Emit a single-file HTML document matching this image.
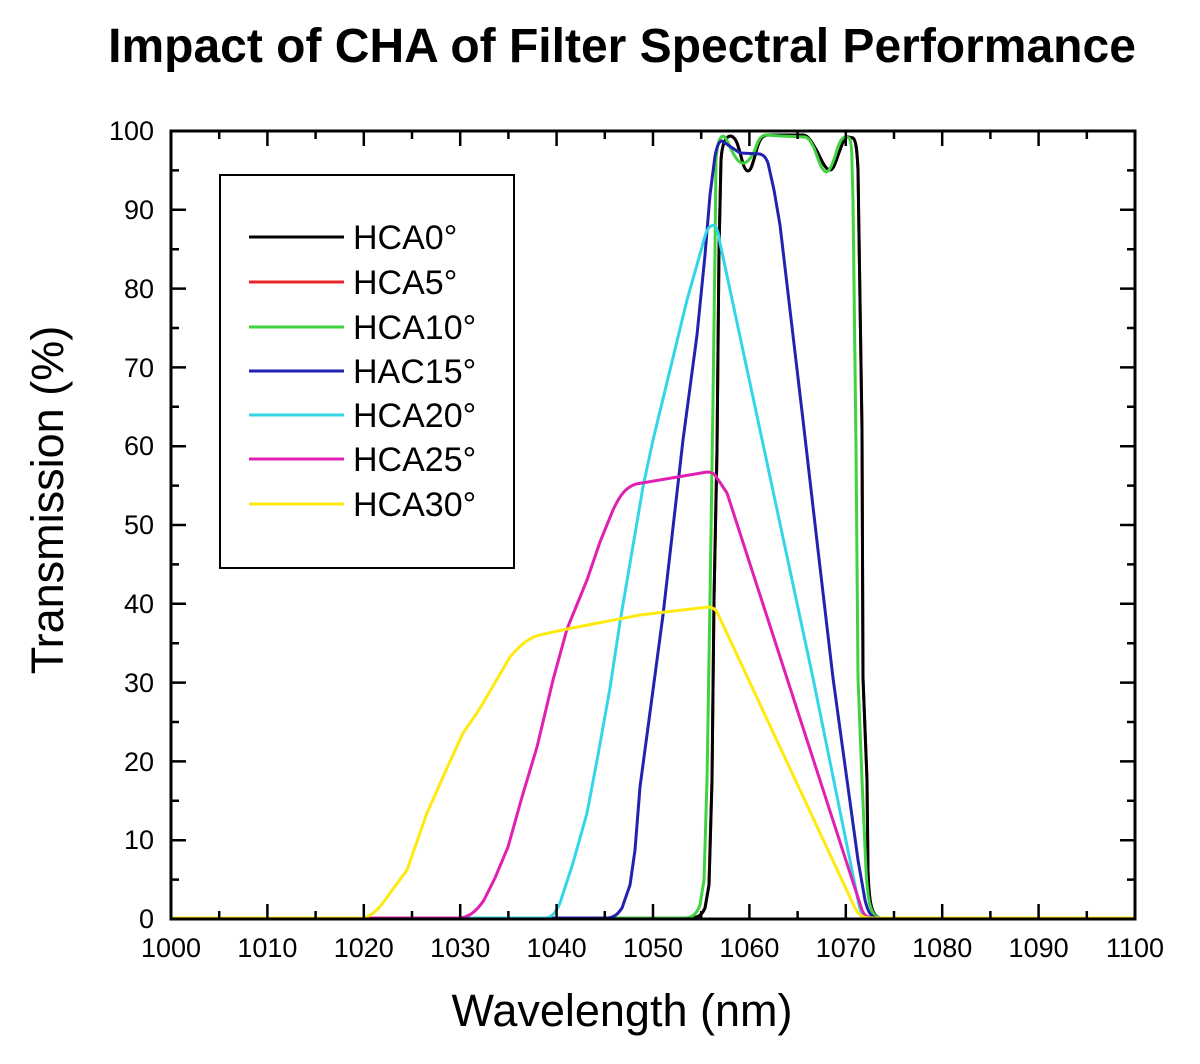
<!DOCTYPE html>
<html>
<head>
<meta charset="utf-8">
<style>
  html, body { margin:0; padding:0; background:#fff; }
  svg { display:block; }
  text { font-family: "Liberation Sans", Arial, sans-serif; fill:#000; }
</style>
</head>
<body>
<svg width="1200" height="1064" viewBox="0 0 1200 1064" xmlns="http://www.w3.org/2000/svg">
  <rect width="1200" height="1064" fill="#fff"/>

  <!-- Title -->
  <text x="622" y="62" font-size="48" font-weight="bold" text-anchor="middle">Impact of CHA of Filter Spectral Performance</text>

  <!-- Series -->
  <g fill="none" stroke-width="3" stroke-linejoin="round" stroke-linecap="round">
    <path stroke="#e8262a" d="M171,918 L690,918 C 698,918 702,915 705,908 L709,885 L712,780 L714,600 L717,450 L719,250 L721,160 C 722,145 725,137 730,136 C 736,136 738,145 742,160 C 744,168 746,171 748,171 C 751,171 753,163 756,152 C 759,140 762,135 768,135 L803,135 C 808,135 812,142 818,153 C 822,162 826,170 830,170 C 834,170 836,160 840,150 C 843,141 845,137 848,137 L853,138 C 856,140 857,150 858,170 L860,300 L862,430 L863,678 L867,780 L868,870 C 869,905 872,916 880,918 L1135,918"/>
    <path stroke="#000" d="M171,918 L690,918 C 698,918 702,915 705,908 L709,885 L712,780 L714,600 L717,450 L719,250 L721,160 C 722,145 725,137 730,136 C 736,136 738,145 742,160 C 744,168 746,171 748,171 C 751,171 753,163 756,152 C 759,140 762,135 768,135 L803,135 C 808,135 812,142 818,153 C 822,162 826,170 830,170 C 834,170 836,160 840,150 C 843,141 845,137 848,137 L853,138 C 856,140 857,150 858,170 L860,300 L862,430 L863,678 L867,780 L868,870 C 869,905 872,916 880,918 L1135,918"/>
    <path stroke="#3fd43f" d="M171,918 L685,918 C 693,918 697,913 700,905 L704,880 L707,780 L710,600 L713,400 L715,250 L716,160 C 717,146 719,137 723,136 C 726,136 729,146 733,153 C 737,160 740,164 744,163 C 748,162 751,158 755,150 C 758,140 761,135 766,135 L780,136 L805,137 C 809,138 811,142 814,148 C 818,158 821,170 826,172 C 830,172 834,160 837,150 C 840,141 842,137 846,137 L849,138 C 851,140 852,150 852,165 L853,200 L856,448 L858,678 L862,780 L866,870 C 868,905 871,916 880,918 L1135,918"/>
    <path stroke="#2222b0" d="M171,918 L606,918 C 614,918 618,914 622,908 L630,885 L635,850 L640,787 L653,690 L663,615 L683,440 L697,335 L705,255 L710,195 L715,156 C 717,146 719,141 722,141 L740,153 L760,154 C 764,155 766,158 768,163 L774,190 L780,225 L790,310 L803,420 L818,550 L833,678 L847,780 L858,860 L865,900 C 868,912 871,918 878,918 L1135,918"/>
    <path stroke="#33d6e8" d="M171,918 L545,918 C 552,918 556,912 560,903 L573,863 L587,813 L598,755 L610,688 L620,622 L643,487 L653,440 L670,370 L687,300 L702,247 C 705,235 707,228 711,226 L714,225 C 717,226 719,236 720,243 L760,430 L813,678 L858,900 C 860,912 863,918 870,918 L1135,918"/>
    <path stroke="#e020b0" d="M171,918 L458,918 C 468,918 476,912 484,900 L495,878 L508,847 L522,797 L537,747 L553,680 L567,629 L587,580 L600,542 L613,510 C 620,495 626,487 636,484 L707,472 C 711,472 713,473 715,475 L727,493 L862,910 C 864,915 867,918 874,918 L1135,918"/>
    <path stroke="#ffea10" d="M171,918 L362,918 C 370,917 378,910 385,900 L407,870 L427,813 L443,777 L463,733 L477,713 L483,703 L510,657 C 520,645 530,637 540,635 L567,629 L640,615 L708,607 C 712,607 715,609 717,612 L855,908 C 858,914 862,918 870,918 L1135,918"/>
  </g>

  <!-- Frame -->
  <rect x="171" y="131" width="964" height="788" fill="none" stroke="#000" stroke-width="3"/>

  <!-- Ticks -->
  <g stroke="#000" stroke-width="2.5" fill="none">
    <path d="M267.4,919v-15 M363.8,919v-15 M460.2,919v-15 M556.6,919v-15 M653,919v-15 M749.4,919v-15 M845.8,919v-15 M942.2,919v-15 M1038.6,919v-15
             M267.4,131v15 M363.8,131v15 M460.2,131v15 M556.6,131v15 M653,131v15 M749.4,131v15 M845.8,131v15 M942.2,131v15 M1038.6,131v15"/>
    <path d="M219.2,919v-8 M315.6,919v-8 M412,919v-8 M508.4,919v-8 M604.8,919v-8 M701.2,919v-8 M797.6,919v-8 M894,919v-8 M990.4,919v-8 M1086.8,919v-8
             M219.2,131v8 M315.6,131v8 M412,131v8 M508.4,131v8 M604.8,131v8 M701.2,131v8 M797.6,131v8 M894,131v8 M990.4,131v8 M1086.8,131v8"/>
    <path d="M171,209.8h15 M171,288.6h15 M171,367.4h15 M171,446.2h15 M171,525h15 M171,603.8h15 M171,682.6h15 M171,761.4h15 M171,840.2h15
             M1135,209.8h-15 M1135,288.6h-15 M1135,367.4h-15 M1135,446.2h-15 M1135,525h-15 M1135,603.8h-15 M1135,682.6h-15 M1135,761.4h-15 M1135,840.2h-15"/>
    <path d="M171,170.4h8 M171,249.2h8 M171,328h8 M171,406.8h8 M171,485.6h8 M171,564.4h8 M171,643.2h8 M171,722h8 M171,800.8h8 M171,879.6h8
             M1135,170.4h-8 M1135,249.2h-8 M1135,328h-8 M1135,406.8h-8 M1135,485.6h-8 M1135,564.4h-8 M1135,643.2h-8 M1135,722h-8 M1135,800.8h-8 M1135,879.6h-8"/>
  </g>

  <!-- X tick labels -->
  <g font-size="27" text-anchor="middle">
    <text x="171" y="957">1000</text>
    <text x="267.4" y="957">1010</text>
    <text x="363.8" y="957">1020</text>
    <text x="460.2" y="957">1030</text>
    <text x="556.6" y="957">1040</text>
    <text x="653" y="957">1050</text>
    <text x="749.4" y="957">1060</text>
    <text x="845.8" y="957">1070</text>
    <text x="942.2" y="957">1080</text>
    <text x="1038.6" y="957">1090</text>
    <text x="1135" y="957">1100</text>
  </g>

  <!-- Y tick labels -->
  <g font-size="27" text-anchor="end">
    <text x="154" y="140">100</text>
    <text x="154" y="219">90</text>
    <text x="154" y="298">80</text>
    <text x="154" y="377">70</text>
    <text x="154" y="455">60</text>
    <text x="154" y="534">50</text>
    <text x="154" y="613">40</text>
    <text x="154" y="692">30</text>
    <text x="154" y="771">20</text>
    <text x="154" y="849">10</text>
    <text x="154" y="928">0</text>
  </g>

  <!-- Axis titles -->
  <text x="622" y="1026" font-size="45" text-anchor="middle">Wavelength (nm)</text>
  <text transform="translate(63,500) rotate(-90)" font-size="45" text-anchor="middle">Transmission (%)</text>

  <!-- Legend -->
  <rect x="220" y="175" width="294" height="393" fill="#fff" stroke="#000" stroke-width="2"/>
  <g stroke-width="3">
    <line x1="249" y1="237" x2="344" y2="237" stroke="#000"/>
    <line x1="249" y1="282" x2="344" y2="282" stroke="#e8262a"/>
    <line x1="249" y1="327" x2="344" y2="327" stroke="#3fd43f"/>
    <line x1="249" y1="371" x2="344" y2="371" stroke="#2222b0"/>
    <line x1="249" y1="415" x2="344" y2="415" stroke="#33d6e8"/>
    <line x1="249" y1="459" x2="344" y2="459" stroke="#e020b0"/>
    <line x1="249" y1="504" x2="344" y2="504" stroke="#ffea10"/>
  </g>
  <g font-size="34">
    <text x="353" y="249">HCA0°</text>
    <text x="353" y="294">HCA5°</text>
    <text x="353" y="339">HCA10°</text>
    <text x="353" y="383">HAC15°</text>
    <text x="353" y="427">HCA20°</text>
    <text x="353" y="471">HCA25°</text>
    <text x="353" y="516">HCA30°</text>
  </g>
</svg>
</body>
</html>
